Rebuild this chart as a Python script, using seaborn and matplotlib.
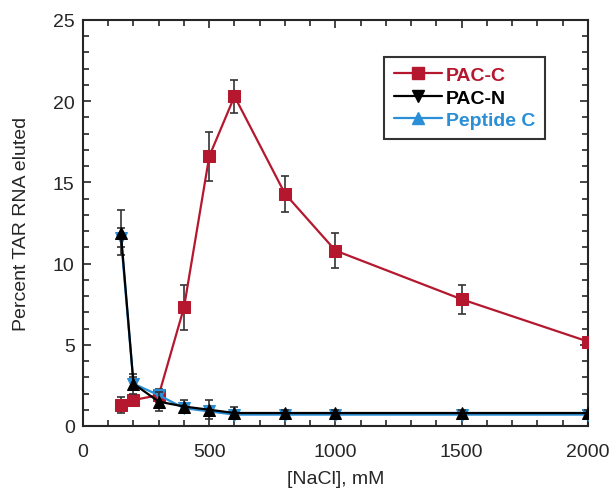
import matplotlib
matplotlib.use('Agg')
import matplotlib.pyplot as plt
import matplotlib.ticker as mticker
from matplotlib.lines import Line2D
import pandas as pd
import seaborn as sns

nacl = [150, 200, 300, 400, 500, 600, 800, 1000, 1500, 2000]
pac_c = [1.3, 1.6, 1.9, 7.3, 16.6, 20.3, 14.3, 10.8, 7.8, 5.2]
pac_c_err = [0.5, 0.3, 0.3, 1.4, 1.5, 1.0, 1.1, 1.1, 0.9, 0.2]
pac_n = [11.9, 2.6, 1.5, 1.2, 1.0, 0.8, 0.8, 0.8, 0.8, 0.8]
pac_n_err = [1.4, 0.6, 0.6, 0.4, 0.6, 0.4, 0.2, 0.2, 0.2, 0.2]
pep_c = [11.6, 2.6, 1.9, 1.1, 0.9, 0.7, 0.7, 0.7, 0.7, 0.7]
pep_c_err = [0.6, 0.4, 0.4, 0.3, 0.3, 0.3, 0.2, 0.2, 0.2, 0.2]

RED = '#b5182e'
BLUE = '#2a8fd6'
BLACK = '#000000'

df = pd.DataFrame({'nacl': nacl, 'PAC-C': pac_c, 'PAC-N': pac_n, 'Peptide C': pep_c})

sns.set_style('ticks')
plt.rcParams['font.family'] = ['Liberation Sans', 'DejaVu Sans']

fig = plt.figure(figsize=(6.13, 4.89), dpi=100)
ax = fig.add_axes([0.1354, 0.1268, 0.8238, 0.8303])

series = [
    ('PAC-C', pac_c_err, RED, 's', 3),
    ('Peptide C', pep_c_err, BLUE, 'v', 4),
    ('PAC-N', pac_n_err, BLACK, '^', 5),
]
for name, err, col, mk, z in series:
    ax.errorbar(df['nacl'], df[name], yerr=err, fmt='none', ecolor='#333333',
                elinewidth=1.2, capsize=3, capthick=1.2, zorder=z - 0.5)
    sns.lineplot(data=df, x='nacl', y=name, ax=ax, color=col, marker=mk,
                 markersize=8.5, markeredgecolor=col, linewidth=1.6, zorder=z)

ax.set_xlim(0, 2000)
ax.set_ylim(0, 25)
ax.xaxis.set_major_locator(mticker.MultipleLocator(500))
ax.xaxis.set_minor_locator(mticker.MultipleLocator(100))
ax.yaxis.set_major_locator(mticker.MultipleLocator(5))
ax.yaxis.set_minor_locator(mticker.MultipleLocator(1))
ax.tick_params(which='both', direction='in', top=True, right=True, width=1.2)
ax.tick_params(which='major', length=6, labelsize=14)
ax.tick_params(which='minor', length=4)
ax.tick_params(axis='x', which='major', pad=12)
ax.tick_params(axis='y', which='major', pad=6)
for s in ax.spines.values():
    s.set_linewidth(1.5)

ax.set_xlabel('[NaCl], mM', fontsize=14)
ax.set_ylabel('Percent TAR RNA eluted', fontsize=14)
ax.xaxis.set_label_coords(0.5, -0.108)
ax.yaxis.set_label_coords(-0.105, 0.5)

handles = [
    Line2D([], [], color=RED, marker='s', markersize=8, linewidth=1.6),
    Line2D([], [], color=BLACK, marker='v', markersize=8, linewidth=1.6),
    Line2D([], [], color=BLUE, marker='^', markersize=8, linewidth=1.6),
]
leg = ax.legend(handles, ['PAC-C', 'PAC-N', 'Peptide C'], loc='upper left',
                bbox_to_anchor=(0.596, 0.909), borderaxespad=0, frameon=True,
                fancybox=False, edgecolor='black', handlelength=2.5,
                handletextpad=0.2, borderpad=0.5, labelspacing=0.25,
                prop={'size': 14, 'weight': 'bold'})
leg.get_frame().set_linewidth(1.5)
for t, c in zip(leg.get_texts(), [RED, BLACK, BLUE]):
    t.set_color(c)

fig.savefig('out.png', dpi=100)
